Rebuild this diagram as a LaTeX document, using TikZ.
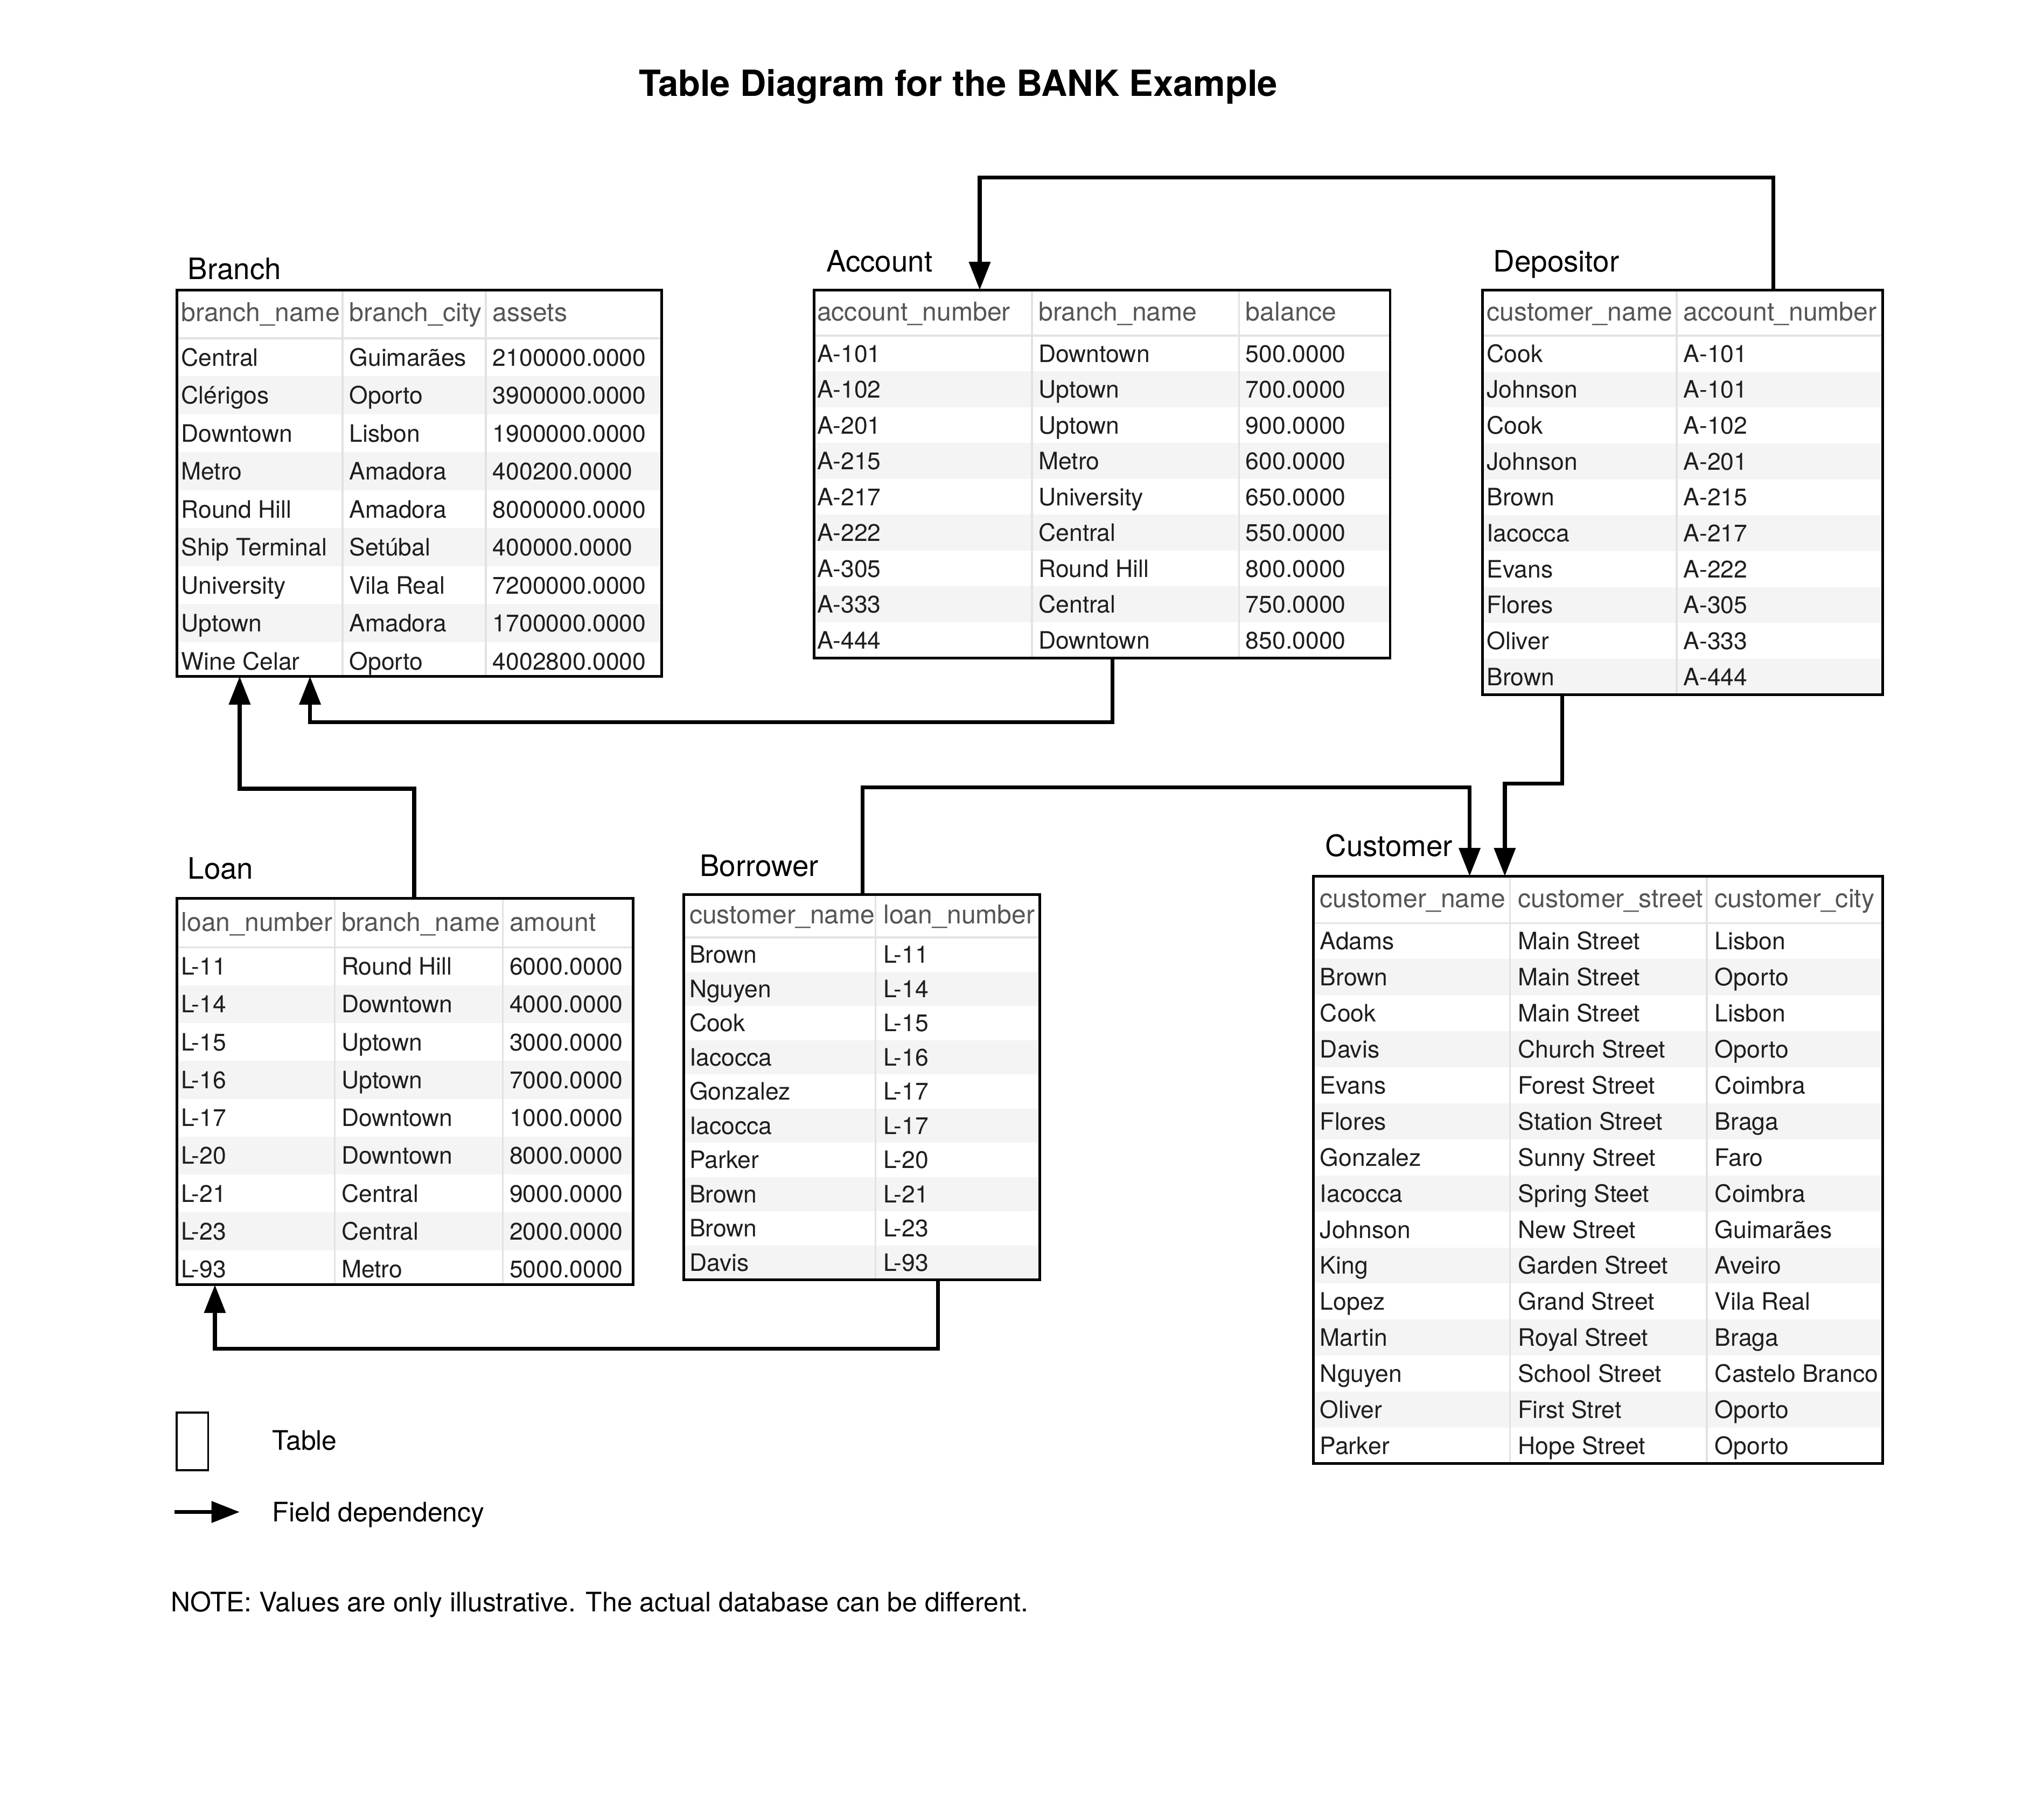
\documentclass[tikz,border=0pt]{standalone}
\usepackage{fontspec}
\setmainfont{TeX Gyre Heros}
\usetikzlibrary{arrows.meta}
\definecolor{headgrey}{HTML}{555555}
\definecolor{cellblack}{HTML}{1E1E1E}
\definecolor{stripegrey}{HTML}{F4F4F4}
\definecolor{rulegrey}{HTML}{E2E2E2}
\newcommand{\tableFrame}[5]{
  \node[tablebox, minimum width={(#4-#2)*0.9944}, minimum height={(#5-#3)*0.9962}] (#1) at (#2,#3) {};
}
\newcommand{\rowStripe}[5]{
  \ifodd#1\else\fill[stripegrey] (#2,#4) rectangle (#3,#4+#5);\fi
}

\begin{document}
\begin{tikzpicture}[x=0.9944pt, y=-0.9962pt,
  cell/.style={anchor=base west, inner sep=0pt, text=cellblack, font=\fontsize{18.3}{20}\selectfont},
  hcell/.style={anchor=base west, inner sep=0pt, text=headgrey, font=\fontsize{19.8}{22}\selectfont},
  tlabel/.style={anchor=base west, inner sep=0pt, font=\fontsize{22.5}{25}\selectfont},
  legend/.style={anchor=base west, inner sep=0pt, font=\fontsize{20.5}{23}\selectfont},
  tablebox/.style={draw, line width=2pt, anchor=north west, inner sep=0pt, outer sep=0pt},
  rule/.style={rulegrey, line width=1.5pt},
  fk/.style={line width=3pt, -{Triangle[length=21.5pt,width=16pt]}}]
  \fill[white] (-0.93pt,-0.94pt) rectangle ++(1560pt,-1368.5pt);
  \useasboundingbox (-0.93pt,-0.94pt) rectangle ++(1560pt,-1368.5pt);
  \node[anchor=base, inner sep=0pt, font=\bfseries\fontsize{27.5}{30}\selectfont] (title) at (734.5,74.5) {Table Diagram for the BANK Example};

  % Branch
  \node[tlabel] (branchLabel) at (143,215) {Branch};
  \foreach \va/\vb/\vc [count=\i] in {Central/Guimarães/2100000.0000, Clérigos/Oporto/3900000.0000,
    Downtown/Lisbon/1900000.0000, Metro/Amadora/400200.0000, Round Hill/Amadora/8000000.0000,
    Ship Terminal/Setúbal/400000.0000, University/Vila Real/7200000.0000,
    Uptown/Amadora/1700000.0000, Wine Celar/Oporto/4002800.0000}{
    \pgfmathsetmacro\ry{260+(\i-1)*29.1}
    \rowStripe{\i}{135}{507}{\ry}{29.1}
    \node[cell] (branch-\i-1) at (138,\ry+21.15) {\va};
    \node[cell] (branch-\i-2) at (267,\ry+21.15) {\vb};
    \node[cell] (branch-\i-3) at (377,\ry+21.15) {\vc};
  }
  \foreach \x in {262,372} \draw[rule] (\x,223) -- (\x,519);
  \draw[rule] (135,260) -- (507,260);
  \node[hcell] (branch-h1) at (138,247) {branch\_name};
  \node[hcell] (branch-h2) at (267,247) {branch\_city};
  \node[hcell] (branch-h3) at (377,247) {assets};
  \tableFrame{branch}{135}{223}{507}{519}

  % Account
  \node[tlabel] (accountLabel) at (633,209) {Account};
  \foreach \va/\vb/\vc [count=\i] in {A-101/Downtown/500.0000, A-102/Uptown/700.0000,
    A-201/Uptown/900.0000, A-215/Metro/600.0000, A-217/University/650.0000,
    A-222/Central/550.0000, A-305/Round Hill/800.0000, A-333/Central/750.0000,
    A-444/Downtown/850.0000}{
    \pgfmathsetmacro\ry{258+(\i-1)*27.44}
    \rowStripe{\i}{624}{1066}{\ry}{27.44}
    \node[cell] (account-\i-1) at (626,\ry+20.3) {\va};
    \node[cell] (account-\i-2) at (796,\ry+20.3) {\vb};
    \node[cell] (account-\i-3) at (955,\ry+20.3) {\vc};
  }
  \foreach \x in {791,950} \draw[rule] (\x,223) -- (\x,505);
  \draw[rule] (624,258) -- (1066,258);
  \node[hcell] (account-h1) at (626,246.5) {account\_number};
  \node[hcell] (account-h2) at (796,246.5) {branch\_name};
  \node[hcell] (account-h3) at (955,246.5) {balance};
  \tableFrame{account}{624}{223}{1066}{505}

  % Depositor
  \node[tlabel] (depositorLabel) at (1145,209) {Depositor};
  \foreach \va/\vb [count=\i] in {Cook/A-101, Johnson/A-101, Cook/A-102, Johnson/A-201,
    Brown/A-215, Iacocca/A-217, Evans/A-222, Flores/A-305, Oliver/A-333, Brown/A-444}{
    \pgfmathsetmacro\ry{258+(\i-1)*27.5}
    \rowStripe{\i}{1137}{1444}{\ry}{27.5}
    \node[cell] (depositor-\i-1) at (1140,\ry+20.35) {\va};
    \node[cell] (depositor-\i-2) at (1291,\ry+20.35) {\vb};
  }
  \draw[rule] (1286,223) -- (1286,533);
  \draw[rule] (1137,258) -- (1444,258);
  \node[hcell] (depositor-h1) at (1140,246.5) {customer\_name};
  \node[hcell] (depositor-h2) at (1291,246.5) {account\_number};
  \tableFrame{depositor}{1137}{223}{1444}{533}

  % Loan
  \node[tlabel] (loanLabel) at (143,674) {Loan};
  \foreach \va/\vb/\vc [count=\i] in {L-11/Round Hill/6000.0000, L-14/Downtown/4000.0000,
    L-15/Uptown/3000.0000, L-16/Uptown/7000.0000, L-17/Downtown/1000.0000,
    L-20/Downtown/8000.0000, L-21/Central/9000.0000, L-23/Central/2000.0000,
    L-93/Metro/5000.0000}{
    \pgfmathsetmacro\ry{726.5+(\i-1)*29}
    \rowStripe{\i}{135}{485}{\ry}{29}
    \node[cell] (loan-\i-1) at (138,\ry+21.1) {\va};
    \node[cell] (loan-\i-2) at (261,\ry+21.1) {\vb};
    \node[cell] (loan-\i-3) at (390,\ry+21.1) {\vc};
  }
  \foreach \x in {256,385} \draw[rule] (\x,689) -- (\x,985);
  \draw[rule] (135,726.5) -- (485,726.5);
  \node[hcell] (loan-h1) at (138,714) {loan\_number};
  \node[hcell] (loan-h2) at (261,714) {branch\_name};
  \node[hcell] (loan-h3) at (390,714) {amount};
  \tableFrame{loan}{135}{689}{485}{985}

  % Borrower
  \node[tlabel] (borrowerLabel) at (536,672) {Borrower};
  \foreach \va/\vb [count=\i] in {Brown/L-11, Nguyen/L-14, Cook/L-15, Iacocca/L-16,
    Gonzalez/L-17, Iacocca/L-17, Parker/L-20, Brown/L-21, Brown/L-23, Davis/L-93}{
    \pgfmathsetmacro\ry{719+(\i-1)*26.2}
    \rowStripe{\i}{524}{797}{\ry}{26.2}
    \node[cell] (borrower-\i-1) at (528,\ry+19.7) {\va};
    \node[cell] (borrower-\i-2) at (677,\ry+19.7) {\vb};
  }
  \draw[rule] (671,686) -- (671,981);
  \draw[rule] (524,719) -- (797,719);
  \node[hcell] (borrower-h1) at (528,708.5) {customer\_name};
  \node[hcell] (borrower-h2) at (677,708.5) {loan\_number};
  \tableFrame{borrower}{524}{686}{797}{981}

  % Customer
  \node[tlabel] (customerLabel) at (1016,657) {Customer};
  \foreach \va/\vb/\vc [count=\i] in {Adams/Main Street/Lisbon, Brown/Main Street/Oporto,
    Cook/Main Street/Lisbon, Davis/Church Street/Oporto, Evans/Forest Street/Coimbra,
    Flores/Station Street/Braga, Gonzalez/Sunny Street/Faro, Iacocca/Spring Steet/Coimbra,
    Johnson/New Street/Guimarães, King/Garden Street/Aveiro, Lopez/Grand Street/Vila Real,
    Martin/Royal Street/Braga, Nguyen/School Street/Castelo Branco,
    Oliver/First Stret/Oporto, Parker/Hope Street/Oporto}{
    \pgfmathsetmacro\ry{708+(\i-1)*27.6}
    \rowStripe{\i}{1007}{1444}{\ry}{27.6}
    \node[cell] (customer-\i-1) at (1012,\ry+20.4) {\va};
    \node[cell] (customer-\i-2) at (1164,\ry+20.4) {\vb};
    \node[cell] (customer-\i-3) at (1315,\ry+20.4) {\vc};
  }
  \foreach \x in {1158,1309} \draw[rule] (\x,672) -- (\x,1122);
  \draw[rule] (1007,708) -- (1444,708);
  \node[hcell] (customer-h1) at (1012,696) {customer\_name};
  \node[hcell] (customer-h2) at (1164,696) {customer\_street};
  \node[hcell] (customer-h3) at (1315,696) {customer\_city};
  \tableFrame{customer}{1007}{672}{1444}{1122}

  % Field ends
  \coordinate (depAccount) at (1360,223);
  \coordinate (accNumber) at (751,223);
  \coordinate (accBranch) at (853,505);
  \coordinate (branchNameA) at (237,519);
  \coordinate (loanBranch) at (317,689);
  \coordinate (branchNameL) at (183,519);
  \coordinate (borCustomer) at (661,686);
  \coordinate (custNameB) at (1127,672);
  \coordinate (depCustomer) at (1198,533);
  \coordinate (custNameD) at (1154,672);
  \coordinate (borLoan) at (719,981);
  \coordinate (loanNumber) at (164,985);

  % Dependencies
  \draw[fk] (depAccount) -- ++(0,-86) -| (accNumber);
  \draw[fk] (accBranch) -- ++(0,49) -| (branchNameA);
  \draw[fk] (loanBranch) -- ++(0,-84) -| (branchNameL);
  \draw[fk] (borCustomer) -- ++(0,-82) -| (custNameB);
  \draw[fk] (depCustomer) -- ++(0,68) -| (custNameD);
  \draw[fk] (borLoan) -- ++(0,53) -| (loanNumber);

  % Legend
  \node[draw, line width=1.5pt, anchor=north west, inner sep=0pt, minimum width=24pt, minimum height=44pt] (legendBox) at (134,1082) {};
  \node[legend] (legendBoxText) at (208,1111.5) {Table};
  \coordinate (legendFrom) at (133,1159);
  \coordinate (legendTo) at (183,1159);
  \draw[fk] (legendFrom) -- (legendTo);
  \node[legend] (legendArrowText) at (208,1166.5) {Field dependency};
  \node[legend] (note) at (130,1235.5) {NOTE: Values are only illustrative. The actual database can be different.};
\end{tikzpicture}
\end{document}
